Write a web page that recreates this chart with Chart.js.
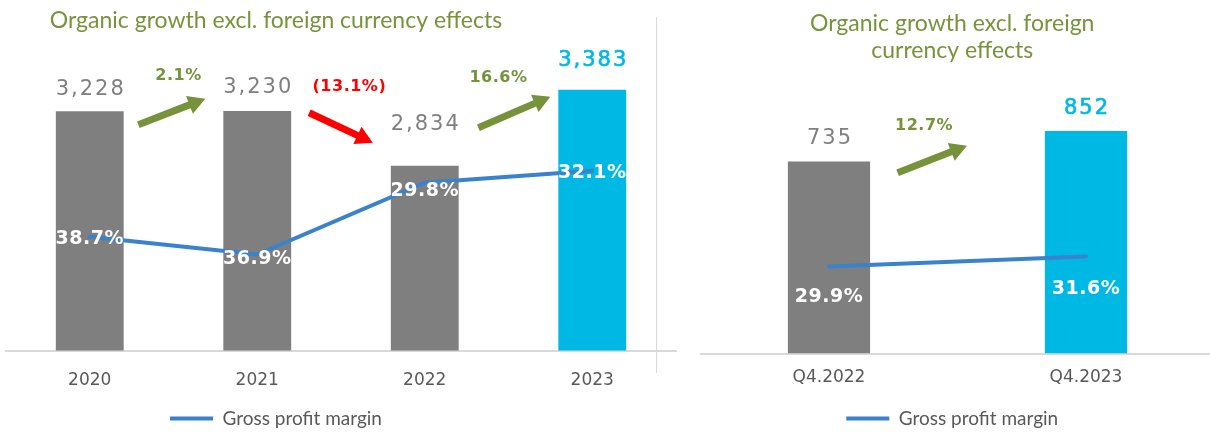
<!DOCTYPE html>
<html>
<head>
<meta charset="utf-8">
<script src="https://cdn.jsdelivr.net/npm/chart.js@4.4.1/dist/chart.umd.min.js"></script>
<style>
    html, body { margin: 0; padding: 0; background: #fff; width: 1210px; height: 433px; overflow: hidden; }
    .box { position: absolute; top: 0; height: 438px; }
    #yearBox { left: -124px; width: 804px; }
    #quarterBox { left: 690px; width: 528px; }
    #sep { position: absolute; left: 656px; top: 17px; width: 1px; height: 356px; background: #d9d9d9; }
</style>
</head>
<body>
<div id="sep"></div>
<div class="box" id="yearBox"><canvas id="yearChart"></canvas></div>
<div class="box" id="quarterBox"><canvas id="quarterChart"></canvas></div>
<script>
// --- data ---
const years = ['2020', '2021', '2022', '2023'];
const yearGrossProfit = [3228, 3230, 2834, 3383];
const yearMargin = [38.7, 36.9, 29.8, 32.1];
// height of the margin line as drawn in the source (0-100 of the plot); it does not follow its labels
const yearMarginLine = [37.1, 31.3, 54.7, 58.6];
const yearGrowth = ['2.1%', '(13.1%)', '16.6%'];

const quarters = ['Q4.2022', 'Q4.2023'];
const quarterGrossProfit = [735, 852];
const quarterMargin = [29.9, 31.6];
const quarterGrowth = ['12.7%'];

const titleText = 'Organic growth excl. foreign currency effects';
const legendText = 'Gross profit margin';

// --- colours ---
const GREY = '#7f7f7f';
const CYAN = '#00b8e4';
const BLUE = '#3a82cc';
const GREEN = '#76933c';
const RED = '#ff0000';
const TEXT = '#595959';

Chart.defaults.font.family = 'Lato';
Chart.defaults.animation = false;

function fmt(v) {
    return v.toLocaleString('en-US');
}

function drawArrow(ctx, x0, y0, x1, y1, color) {
    const ang = Math.atan2(y1 - y0, x1 - x0);
    const len = Math.hypot(x1 - x0, y1 - y0);
    const head = 17, headW = 9.5, shaft = 3.5;
    ctx.save();
    ctx.translate(x0, y0);
    ctx.rotate(ang);
    ctx.fillStyle = color;
    ctx.beginPath();
    ctx.moveTo(0, -shaft);
    ctx.lineTo(len - head, -shaft);
    ctx.lineTo(len - head, -headW);
    ctx.lineTo(len, 0);
    ctx.lineTo(len - head, headW);
    ctx.lineTo(len - head, shaft);
    ctx.lineTo(0, shaft);
    ctx.closePath();
    ctx.fill();
    ctx.restore();
}

// value labels, margin labels and growth arrows
const overlayPlugin = {
    id: 'overlay',
    afterDatasetsDraw(chart, args, opts) {
        const ctx = chart.ctx;
        const xs = chart.scales.x, ys = chart.scales.y;
        const lineMeta = chart.getDatasetMeta(0);
        const barMeta = chart.getDatasetMeta(1);
        const barData = chart.data.datasets[1].data;
        ctx.save();
        ctx.textAlign = 'center';
        ctx.textBaseline = 'middle';

        barMeta.data.forEach((bar, i) => {
            const last = i === barData.length - 1;
            const ty = bar.y - opts.valueGap[i];
            ctx.font = '21px "DejaVu Sans"';
            ctx.letterSpacing = '2px';
            ctx.fillStyle = last ? CYAN : GREY;
            ctx.fillText(fmt(barData[i]), bar.x + 1, ty);
            if (last) {
                ctx.strokeStyle = CYAN;
                ctx.lineWidth = 0.7;
                ctx.strokeText(fmt(barData[i]), bar.x + 1, ty);
            }
        });

        ctx.font = 'bold 19px "DejaVu Sans"';
        ctx.letterSpacing = '0.5px';
        ctx.fillStyle = '#ffffff';
        lineMeta.data.forEach((pt, i) => {
            ctx.fillText(opts.margins[i].toFixed(1) + '%', pt.x, pt.y + opts.marginShift[i]);
        });

        opts.arrows.forEach(a => {
            drawArrow(ctx,
                xs.getPixelForValue(a.from[0]), ys.getPixelForValue(a.from[1]),
                xs.getPixelForValue(a.to[0]), ys.getPixelForValue(a.to[1]), a.color);
            ctx.font = 'bold 16px "DejaVu Sans"';
            ctx.letterSpacing = '0.5px';
            ctx.fillStyle = a.color;
            ctx.fillText(a.text, xs.getPixelForValue(a.at[0]), ys.getPixelForValue(a.at[1]));
        });
        ctx.restore();
    }
};

function baseOptions(cfg) {
    return {
        responsive: true,
        maintainAspectRatio: false,
        layout: { padding: { left: 0, right: cfg.padRight, top: 0, bottom: 0 } },
        plugins: {
            title: {
                display: true,
                text: cfg.title,
                color: '#77933c',
                font: { size: 23, weight: 'normal', lineHeight: 1.2 },
                padding: cfg.titlePadding
            },
            legend: {
                position: 'bottom',
                labels: {
                    filter: item => item.datasetIndex === 0,
                    usePointStyle: true,
                    pointStyle: 'line',
                    pointStyleWidth: 43,
                    color: TEXT,
                    font: { size: 19 },
                    padding: cfg.legendPadding
                }
            },
            tooltip: { enabled: false },
            overlay: cfg.overlay
        },
        scales: {
            x: {
                grid: { display: false, drawTicks: false },
                border: { display: true, color: '#d9d9d9', width: 2 },
                ticks: { color: TEXT, padding: cfg.tickPadding, font: { family: 'DejaVu Sans', size: 17 } },
                afterFit: s => { s.height = cfg.tickPadding + 20.4; }
            },
            y: {
                display: true,
                min: cfg.barMin, max: cfg.barMax,
                grid: { display: false, drawTicks: false },
                border: { display: false },
                ticks: { display: false },
                afterFit: s => { s.width = cfg.leftSpace; }
            },
            yLine: { display: false, min: cfg.lineMin, max: cfg.lineMax }
        }
    };
}

function lineSet(data) {
    return {
        type: 'line',
        label: legendText,
        data: data,
        yAxisID: 'yLine',
        borderColor: BLUE,
        backgroundColor: BLUE,
        borderWidth: 4,
        borderCapStyle: 'round',
        pointRadius: 0,
        tension: 0
    };
}

function barSet(data, pct) {
    return {
        type: 'bar',
        label: 'Gross profit',
        data: data,
        yAxisID: 'y',
        backgroundColor: data.map((v, i) => i === data.length - 1 ? CYAN : GREY),
        barPercentage: pct,
        categoryPercentage: 1
    };
}

new Chart(document.getElementById('yearChart'), {
    type: 'bar',
    data: {
        labels: years,
        datasets: [lineSet(yearMarginLine), barSet(yearGrossProfit, 0.405)]
    },
    options: baseOptions({
        title: titleText,
        titlePadding: { top: 7, bottom: 9 },
        leftSpace: 130,
        padRight: 4,
        legendPadding: 18,
        tickPadding: 20,
        barMin: 1500, barMax: 3716,
        lineMin: 0, lineMax: 100,
        overlay: {
            valueGap: [22, 23, 41, 29],
            margins: yearMargin,
            marginShift: [2, 5, 8, 2],
            arrows: [
                { from: [0.29, 3131], to: [0.69, 3318], at: [0.53, 3480], text: yearGrowth[0], color: GREEN },
                { from: [1.31, 3217], to: [1.69, 3001], at: [1.55, 3405], text: yearGrowth[1], color: RED },
                { from: [2.32, 3109], to: [2.75, 3333], at: [2.44, 3470], text: yearGrowth[2], color: GREEN }
            ]
        }
    }),
    plugins: [overlayPlugin]
});

new Chart(document.getElementById('quarterChart'), {
    type: 'bar',
    data: {
        labels: quarters,
        datasets: [lineSet(quarterMargin), barSet(quarterGrossProfit, 0.32)]
    },
    options: baseOptions({
        title: ['Organic growth excl. foreign', 'currency effects'],
        titlePadding: { top: 9.5, bottom: 8.5 },
        leftSpace: 10.5,
        padRight: 3.5,
        legendPadding: 21.3,
        tickPadding: 13.8,
        barMin: 0, barMax: 1073.5,
        lineMin: 15.1, lineMax: 62.8,
        overlay: {
            valueGap: [23, 22],
            margins: quarterMargin,
            marginShift: [31, 33],
            arrows: [
                { from: [0.267, 692], to: [0.537, 796], at: [0.37, 873], text: quarterGrowth[0], color: GREEN }
            ]
        }
    }),
    plugins: [overlayPlugin]
});
</script>
</body>
</html>
